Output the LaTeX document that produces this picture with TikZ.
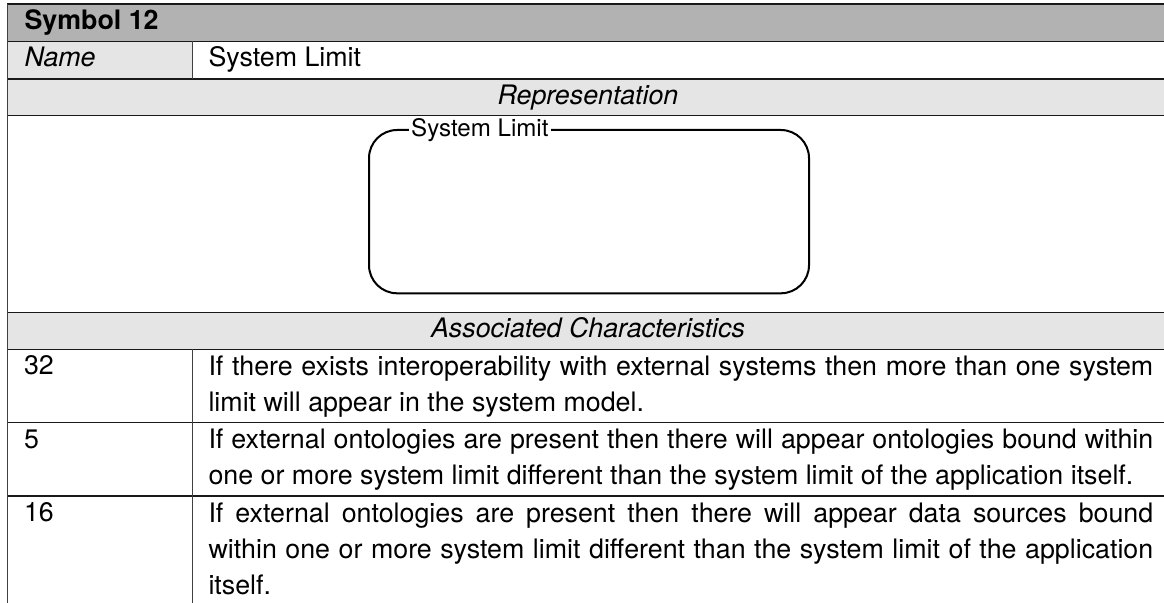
\documentclass[tikz,border=0pt]{standalone}
\usepackage{fontspec}
\setmainfont{TeX Gyre Heros}
\definecolor{hdrgray}{gray}{0.70}
\definecolor{cellgray}{gray}{0.90}
\begin{document}
\begin{tikzpicture}[x=0.37313pt,y=-0.37313pt,
  txt/.style={inner sep=0pt, anchor=base west, font=\fontsize{10}{13.6}\selectfont},
  itxt/.style={inner sep=0pt, anchor=base, font=\fontsize{10}{13.6}\selectfont\itshape},
  para/.style={inner sep=0pt, anchor=north west, text width=352.5pt, align=justify,
    font=\fontsize{10}{13.6}\selectfont},
  rule/.style={line width=0.45pt, black!90},
  vrule/.style={line width=0.45pt, black!75},
  limitbox/.style={line width=0.75pt, black, rounded corners=10.5pt}]
\useasboundingbox (0,0) rectangle (1164,603);
% fills
\fill[hdrgray] (7.3,4) rectangle (1164,41.3);
\fill[cellgray] (7.3,41.3) rectangle (192.3,79);
\fill[cellgray] (7.3,79) rectangle (1164,115.7);
\fill[cellgray] (7.3,312.3) rectangle (1164,349.5);
% horizontal rules
\draw[rule, line width=0.6pt] (7.3,4) -- (1164,4);
\foreach \yy in {41.3,79,115.7,312.3,349.5,422.5,496}
  \draw[rule] (7.3,\yy) -- (1164,\yy);
% vertical rules
\draw[vrule] (7.3,4) -- (7.3,603);
\draw[vrule] (192.3,41.3) -- (192.3,79);
\draw[vrule] (192.3,349.5) -- (192.3,603);
% header and name
\node[txt, font=\fontsize{10}{13.6}\selectfont\bfseries] (title) at (24,29.6) {Symbol 12};
\node[txt, font=\fontsize{10}{13.6}\selectfont\itshape] (namelbl) at (24,66.8) {Name};
\node[txt] (nameval) at (208,66.8) {System Limit};
\node[itxt] (rep) at (588,104.5) {Representation};
% system limit symbol
\draw[limitbox] (369,130) rectangle (809,293.3);
\node[fill=white, inner sep=1pt, anchor=base west, font=\fontsize{9}{11}\selectfont] (lbl) at (408,136.6) {System Limit};
\node[itxt] (assoc) at (588,337.8) {Associated Characteristics};
% characteristics
\node[txt] (n32) at (23.5,375) {32};
\node[para] (d32) at (208,349.5) {\strut If there exists interoperability with external systems then more than one system\linebreak limit will appear in the system model.};
\node[txt] (n5) at (23.5,448) {5};
\node[para] (d5) at (208,422.5) {\strut If external ontologies are present then there will appear ontologies bound within\linebreak one or more system limit different than the system limit of the application itself.};
\node[txt] (n16) at (23.5,521.5) {16};
\node[para] (d16) at (208,496) {\strut If external ontologies are present then there will appear data sources bound\linebreak within one or more system limit different than the system limit of the application\linebreak itself.};
\end{tikzpicture}
\end{document}
